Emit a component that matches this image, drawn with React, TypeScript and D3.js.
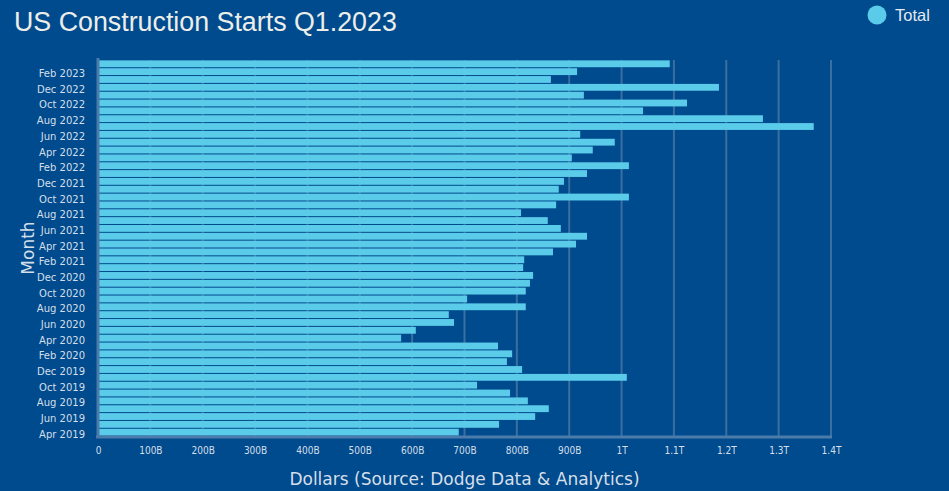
import { useEffect, useRef } from "react";
import * as d3 from "d3";

// months, oldest first
const months = [
  "Apr 2019", "May 2019", "Jun 2019", "Jul 2019", "Aug 2019", "Sep 2019", "Oct 2019", "Nov 2019", "Dec 2019",
  "Jan 2020", "Feb 2020", "Mar 2020", "Apr 2020", "May 2020", "Jun 2020", "Jul 2020", "Aug 2020", "Sep 2020",
  "Oct 2020", "Nov 2020", "Dec 2020", "Jan 2021", "Feb 2021", "Mar 2021", "Apr 2021", "May 2021", "Jun 2021",
  "Jul 2021", "Aug 2021", "Sep 2021", "Oct 2021", "Nov 2021", "Dec 2021", "Jan 2022", "Feb 2022", "Mar 2022",
  "Apr 2022", "May 2022", "Jun 2022", "Jul 2022", "Aug 2022", "Sep 2022", "Oct 2022", "Nov 2022", "Dec 2022",
  "Jan 2023", "Feb 2023", "Mar 2023",
];

// total starts, billions of dollars
const totals = [
  689, 766, 835, 861, 821, 787, 724, 1010, 810,
  781, 791, 764, 579, 607, 680, 670, 817, 705,
  817, 825, 831, 812, 814, 869, 913, 934, 884,
  859, 808, 875, 1014, 880, 890, 934, 1014, 905,
  945, 987, 921, 1367, 1270, 1041, 1125, 928, 1186,
  865, 915, 1092,
];

const xTicks = [0, 100, 200, 300, 400, 500, 600, 700, 800, 900, 1000, 1100, 1200, 1300, 1400];
const seriesName = "Total";

const W = 949;
const H = 491;
const BG = "#004B8D";
const BAR = "#5BCBEA";
const TEXT = "#D5DFEA";

const fmt = (v: number) => {
  if (v === 0) return "0";
  if (v >= 1000) return `${+(v / 1000).toFixed(1)}T`;
  return `${v}B`;
};

const App = () => {
  const svgRef = useRef<SVGSVGElement>(null);

  useEffect(() => {
    const margin = { top: 60, right: 118, bottom: 55, left: 98 };
    const svg = d3.select(svgRef.current);
    svg.selectAll("*").remove();

    const data = months.map((m, i) => ({ month: m, value: totals[i] }));

    const x = d3.scaleLinear().domain([0, 1400]).range([margin.left, W - margin.right]);
    const y = d3
      .scaleBand()
      .domain([...months].reverse())
      .range([margin.top, H - margin.bottom])
      .paddingInner(0.13)
      .paddingOuter(0.05);

    svg.append("rect").attr("width", W).attr("height", H).attr("fill", BG);

    // title + legend
    svg.append("text")
      .attr("x", 14).attr("y", 31)
      .attr("fill", "#ECEEEA")
      .attr("font-family", "Liberation Sans, Arial, sans-serif")
      .attr("font-size", 26.8)
      .text("US Construction Starts Q1.2023");

    svg.append("circle").attr("cx", 877).attr("cy", 15).attr("r", 9.5).attr("fill", BAR);
    svg.append("text")
      .attr("x", 895).attr("y", 21)
      .attr("fill", "#E3EAF2")
      .attr("font-family", "Liberation Sans, Arial, sans-serif")
      .attr("font-size", 16.5)
      .text(seriesName);

    // vertical grid
    svg.append("g")
      .selectAll("line")
      .data(xTicks.slice(1))
      .join("line")
      .attr("x1", (d) => x(d)).attr("x2", (d) => x(d))
      .attr("y1", margin.top).attr("y2", H - margin.bottom)
      .attr("stroke", "#3A6FA2")
      .attr("stroke-width", 2);

    // bars
    svg.append("g")
      .selectAll("rect")
      .data(data)
      .join("rect")
      .attr("x", x(0))
      .attr("y", (d) => y(d.month)!)
      .attr("width", (d) => x(d.value) - x(0))
      .attr("height", y.bandwidth())
      .attr("fill", BAR);

    // axis lines
    svg.append("line")
      .attr("x1", x(0)).attr("x2", x(0))
      .attr("y1", margin.top - 2).attr("y2", H - margin.bottom)
      .attr("stroke", "#4C7CAB").attr("stroke-width", 3);
    svg.append("line")
      .attr("x1", x(0) - 2).attr("x2", x(1400) + 1)
      .attr("y1", H - margin.bottom + 1).attr("y2", H - margin.bottom + 1)
      .attr("stroke", "#4C7CAB").attr("stroke-width", 3);

    // x tick labels
    const xAxis = svg.append("g")
      .attr("transform", `translate(0,${H - margin.bottom})`)
      .call(d3.axisBottom(x).tickValues(xTicks).tickFormat((d) => fmt(+d)).tickSize(0).tickPadding(11));
    xAxis.select(".domain").remove();
    xAxis.selectAll("text")
      .attr("fill", TEXT)
      .attr("font-family", "DejaVu Sans Condensed, DejaVu Sans, sans-serif")
      .attr("font-size", 10);

    // y tick labels, every other month
    const yAxis = svg.append("g")
      .attr("transform", `translate(${margin.left},0)`)
      .call(
        d3.axisLeft(y)
          .tickValues(months.filter((_, i) => i % 2 === 0))
          .tickSize(0)
          .tickPadding(13)
      );
    yAxis.select(".domain").remove();
    yAxis.selectAll("text")
      .attr("fill", TEXT)
      .attr("font-family", "DejaVu Sans, sans-serif")
      .attr("font-size", 10)
      .attr("dy", "0.55em");

    // axis titles
    svg.append("text")
      .attr("x", (x(0) + x(1400)) / 2)
      .attr("y", 485)
      .attr("text-anchor", "middle")
      .attr("fill", TEXT)
      .attr("font-family", "DejaVu Sans, sans-serif")
      .attr("font-size", 17)
      .text("Dollars (Source: Dodge Data & Analytics)");

    svg.append("text")
      .attr("transform", `translate(34,${(margin.top + H - margin.bottom) / 2}) rotate(-90)`)
      .attr("text-anchor", "middle")
      .attr("fill", TEXT)
      .attr("font-family", "DejaVu Sans, sans-serif")
      .attr("font-size", 17)
      .text("Month");
  }, []);

  return (
    <svg
      ref={svgRef}
      width={W}
      height={H}
      style={{ position: "absolute", left: 0, top: 0, display: "block" }}
    />
  );
};

export default App;
